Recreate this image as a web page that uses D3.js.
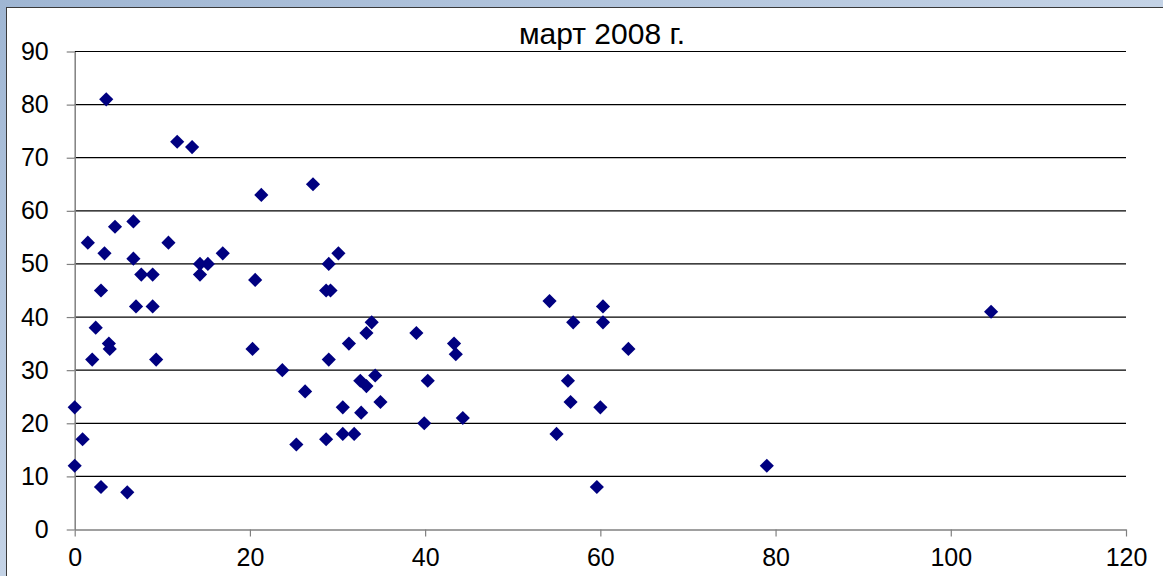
<!DOCTYPE html>
<html lang="ru">
<head>
    <meta charset="UTF-8">
    <title>март 2008 г.</title>
    <script src="https://d3js.org/d3.v7.min.js"></script>
    <style>
        body { margin: 0; overflow: hidden; }
        text { font-family: "Liberation Sans", Arial, sans-serif; fill: #000; }
    </style>
</head>
<body>
    <div id="chart"></div>

    <script>
        // Data
        var title = "март 2008 г.";
        var xTicks = [0, 20, 40, 60, 80, 100, 120];
        var yTicks = [0, 10, 20, 30, 40, 50, 60, 70, 80, 90];
        var xValues = [3.6, 11.7, 13.4, 27.2, 21.3, 6.7, 4.6, 1.5, 10.7, 3.4,
                       16.9, 30.1, 6.7, 14.3, 15.2, 29.0, 7.6, 8.9, 14.3, 20.6,
                       3.0, 28.7, 29.2, 54.2, 7.0, 8.9, 60.3, 104.6, 56.9, 60.3,
                       33.9, 2.4, 39.0, 33.3, 43.3, 3.9, 31.3, 4.0, 20.3, 63.2,
                       43.5, 2.0, 9.3, 29.0, 23.7, 34.3, 32.6, 40.3, 56.3, 33.3,
                       26.3, 34.9, 56.6, 0.0, 30.6, 60.0, 32.7, 44.3, 39.9, 30.6,
                       31.9, 55.0, 0.9, 28.7, 25.3, 0.0, 79.0, 3.0, 59.6, 6.0];
        var yValues = [81, 73, 72, 65, 63, 58, 57, 54, 54, 52,
                       52, 52, 51, 50, 50, 50, 48, 48, 48, 47,
                       45, 45, 45, 43, 42, 42, 42, 41, 39, 39,
                       39, 38, 37, 37, 35, 35, 35, 34, 34, 34,
                       33, 32, 32, 32, 30, 29, 28, 28, 28, 27,
                       26, 24, 24, 23, 23, 23, 22, 21, 20, 18,
                       18, 18, 17, 17, 16, 12, 12, 8, 8, 7];

        var width = 1163, height = 576;

        var svg = d3.select("#chart")
            .append("svg")
            .attr("width", width)
            .attr("height", height);

        // blue textured backdrop
        var defs = svg.append("defs");
        var grad = defs.append("linearGradient")
            .attr("id", "bg")
            .attr("x1", 0).attr("y1", 0).attr("x2", 1).attr("y2", 1);
        grad.append("stop").attr("offset", "0%").attr("stop-color", "#9fb6d3");
        grad.append("stop").attr("offset", "50%").attr("stop-color", "#c4d3e6");
        grad.append("stop").attr("offset", "100%").attr("stop-color", "#a9bfd9");

        svg.append("rect")
            .attr("width", width)
            .attr("height", height)
            .attr("fill", "url(#bg)");

        // white chart area
        svg.append("rect")
            .attr("x", 6.5)
            .attr("y", 7.5)
            .attr("width", width)
            .attr("height", height)
            .attr("fill", "#fff")
            .attr("stroke", "#3a3a3a")
            .attr("stroke-width", 1);

        var x = d3.scaleLinear().domain([0, 120]).range([74.7, 1126]);
        var y = d3.scaleLinear().domain([0, 90]).range([529.5, 51.5]);

        // horizontal gridlines
        svg.append("g")
            .selectAll("line")
            .data(yTicks.filter(function(d) { return d > 0; }))
            .enter()
            .append("line")
            .attr("x1", x(0))
            .attr("x2", x(120))
            .attr("y1", function(d) { return y(d); })
            .attr("y2", function(d) { return y(d); })
            .attr("stroke", "#000")
            .attr("stroke-width", 1.2);

        // y axis
        var yAxis = svg.append("g")
            .attr("transform", "translate(" + x(0) + ",0)")
            .call(d3.axisLeft(y).tickValues(yTicks).tickSize(8).tickPadding(18).tickSizeOuter(0));
        yAxis.select(".domain").attr("stroke", "#808080").attr("stroke-width", 1.5);
        yAxis.selectAll(".tick line").attr("stroke", "#808080").attr("stroke-width", 1.2);
        yAxis.selectAll(".tick text")
            .style("font-size", "25px")
            .style("font-family", "'Liberation Sans', Arial, sans-serif")
            .attr("fill", "#000");

        // x axis
        var xAxis = svg.append("g")
            .attr("transform", "translate(0," + y(0) + ")")
            .call(d3.axisBottom(x).tickValues(xTicks).tickSize(7).tickPadding(12).tickSizeOuter(0));
        xAxis.select(".domain").attr("stroke", "#808080").attr("stroke-width", 1.5);
        xAxis.selectAll(".tick line").attr("stroke", "#808080").attr("stroke-width", 1.2);
        xAxis.selectAll(".tick text")
            .style("font-size", "25px")
            .style("font-family", "'Liberation Sans', Arial, sans-serif")
            .attr("fill", "#000");

        // points
        var points = xValues.map(function(d, i) { return { x: d, y: yValues[i] }; });
        var diamond = d3.symbol().type(d3.symbolDiamond2).size(128);
        svg.append("g")
            .selectAll("path")
            .data(points)
            .enter()
            .append("path")
            .attr("d", diamond)
            .attr("transform", function(d) { return "translate(" + x(d.x) + "," + y(d.y) + ")"; })
            .attr("fill", "#000080");

        // title
        svg.append("text")
            .attr("x", 602)
            .attr("y", 44)
            .attr("text-anchor", "middle")
            .style("font-size", "30px")
            .text(title);
    </script>
</body>
</html>
